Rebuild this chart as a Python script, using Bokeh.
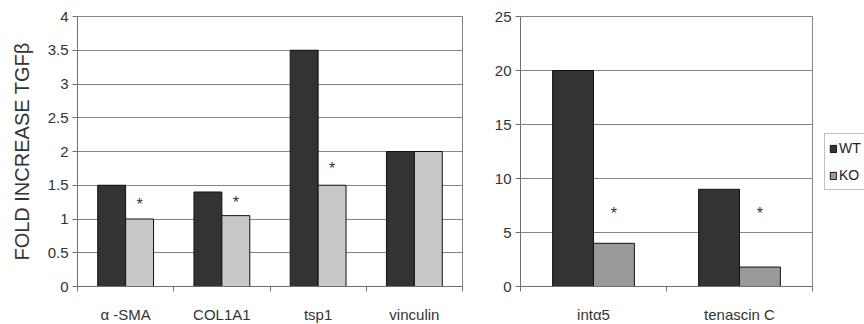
from bokeh.plotting import figure
from bokeh.layouts import row
from bokeh.models import (ColumnDataSource, Range1d, FixedTicker, NumeralTickFormatter,
                          Legend, LegendItem)
from bokeh.transform import dodge
from bokeh.core.properties import value
from bokeh.embed import file_html
from bokeh.resources import INLINE

# ---------------- data ----------------
series = ["WT", "KO"]
y_label = "FOLD INCREASE TGFβ"

left_genes = ["α -SMA", "COL1A1", "tsp1", "vinculin"]
left_wt = [1.5, 1.4, 3.5, 2.0]
left_ko = [1.0, 1.05, 1.5, 2.0]
left_sig = [True, True, True, False]
left_star_y = [1.22, 1.24, 1.75, 0]
left_y_ticks = [0, 0.5, 1, 1.5, 2, 2.5, 3, 3.5, 4]

right_genes = ["intα5", "tenascin C"]
right_wt = [20, 9]
right_ko = [4, 1.8]
right_sig = [True, True]
right_star_y = [6.8, 6.8]
right_y_ticks = [0, 5, 10, 15, 20, 25]

WT_COLOR = "#333333"
KO_LEFT = "#c8c8c8"
KO_RIGHT = "#9a9a9a"
GRID = "#858585"
AXIS = "#707070"
TXT = "#333333"
FONT = "Liberation Sans"


def make_panel(genes, wt, ko, sig, star_y, yticks, ko_color, bar_w,
               frame_w, b_left, b_right):
    n = len(genes)
    xs = list(range(n))
    src = ColumnDataSource(dict(x=xs, wt=wt, ko=ko))
    sx = [x for x, s in zip(xs, sig) if s]
    sy = [y for y, s in zip(star_y, sig) if s]
    star_src = ColumnDataSource(dict(x=sx, y=sy, t=["*"] * len(sx)))

    p = figure(frame_width=frame_w, frame_height=270,
               x_range=Range1d(-0.5, n - 0.5),
               y_range=Range1d(yticks[0], yticks[-1]),
               output_backend="svg", toolbar_location=None,
               min_border_left=b_left, min_border_right=b_right,
               min_border_top=16, min_border_bottom=38)
    p.background_fill_color = "white"
    p.border_fill_color = "white"
    p.outline_line_color = GRID
    p.outline_line_width = 1

    r_wt = p.vbar(x=dodge("x", -bar_w / 2), top="wt", width=bar_w, bottom=0,
                  source=src, fill_color=WT_COLOR, line_color="#111111", line_width=1)
    r_ko = p.vbar(x=dodge("x", bar_w / 2), top="ko", width=bar_w, bottom=0,
                  source=src, fill_color=ko_color, line_color="#111111", line_width=1)

    p.text(x=dodge("x", bar_w / 2), y="y", text="t", source=star_src,
           text_font=value(FONT), text_font_size="16px", text_color=TXT,
           text_align="center", text_baseline="middle")

    # y axis
    p.yaxis.ticker = FixedTicker(ticks=yticks)
    p.yaxis.formatter = NumeralTickFormatter(format="0.[0]")
    p.yaxis.major_tick_in = 0
    p.yaxis.major_tick_out = 5
    p.yaxis.minor_tick_line_color = None
    p.yaxis.major_label_standoff = 4
    p.yaxis.axis_line_color = AXIS
    p.yaxis.major_tick_line_color = AXIS
    p.yaxis.major_label_text_font = FONT
    p.yaxis.major_label_text_font_size = "15px"
    p.yaxis.major_label_text_color = TXT

    # x axis: labels at centres, tick marks at category boundaries
    p.xaxis.ticker = FixedTicker(ticks=xs, minor_ticks=[x - 0.5 for x in xs] + [n - 0.5])
    p.xaxis.major_label_overrides = {x: g for x, g in zip(xs, genes)}
    p.xaxis.major_tick_line_color = None
    p.xaxis.major_tick_in = 0
    p.xaxis.major_tick_out = 0
    p.xaxis.minor_tick_in = 0
    p.xaxis.minor_tick_out = 5
    p.xaxis.minor_tick_line_color = AXIS
    p.xaxis.axis_line_color = AXIS
    p.xaxis.major_label_standoff = 14
    p.xaxis.major_label_text_font = FONT
    p.xaxis.major_label_text_font_size = "15px"
    p.xaxis.major_label_text_color = TXT

    p.xgrid.grid_line_color = None
    p.ygrid.grid_line_color = GRID
    p.ygrid.grid_line_width = 1
    return p, r_wt, r_ko


p1, _, _ = make_panel(left_genes, left_wt, left_ko, left_sig, left_star_y,
                      left_y_ticks, KO_LEFT, 0.29, 385, 77, 10)
p2, r2_wt, r2_ko = make_panel(right_genes, right_wt, right_ko, right_sig, right_star_y,
                              right_y_ticks, KO_RIGHT, 0.28, 292, 48, 52)

p1.yaxis.axis_label = y_label
p1.yaxis.axis_label_standoff = 12
p1.yaxis.axis_label_text_font = FONT
p1.yaxis.axis_label_text_font_size = "20px"
p1.yaxis.axis_label_text_font_style = "normal"
p1.yaxis.axis_label_text_color = TXT

legend = Legend(items=[LegendItem(label=series[0], renderers=[r2_wt]),
                       LegendItem(label=series[1], renderers=[r2_ko])],
                location=(12, 96), orientation="vertical",
                border_line_color="#808080", border_line_width=1,
                background_fill_color="white", background_fill_alpha=1,
                padding=4, spacing=7, margin=0,
                glyph_width=8, glyph_height=9, label_height=20,
                label_standoff=2, label_text_font=FONT,
                label_text_font_size="14px", label_text_color="#222222")
p2.add_layout(legend, "right")

layout = row(p1, p2)
open("out.html", "w").write(file_html(layout, INLINE))
